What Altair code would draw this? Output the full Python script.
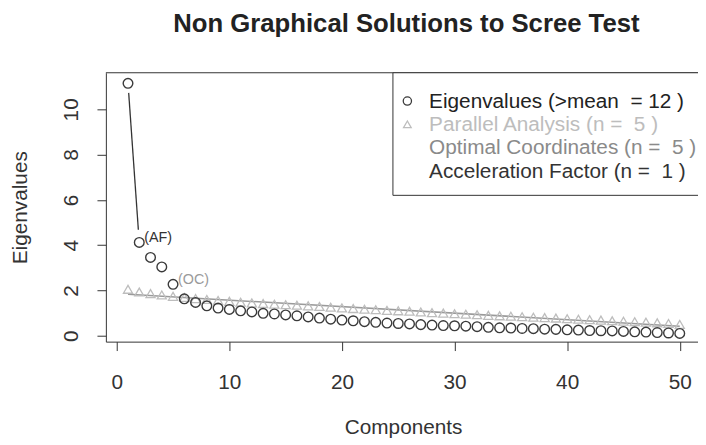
import altair as alt
import pandas as pd

# ---- data ----
components = list(range(1, 51))
eigenvalues = [11.15, 4.12, 3.46, 3.04, 2.27, 1.63, 1.47, 1.32, 1.22, 1.16,
               1.10, 1.05, 0.99, 0.96, 0.92, 0.88, 0.83, 0.78, 0.73, 0.69,
               0.66, 0.62, 0.59, 0.56, 0.54, 0.52, 0.49, 0.47, 0.45, 0.44,
               0.42, 0.40, 0.37, 0.35, 0.34, 0.32, 0.31, 0.29, 0.28, 0.26,
               0.25, 0.23, 0.22, 0.21, 0.19, 0.17, 0.16, 0.14, 0.12, 0.10]
parallel = [2.05, 1.93, 1.86, 1.80, 1.74, 1.69, 1.64, 1.60, 1.56, 1.52,
            1.48, 1.45, 1.42, 1.39, 1.37, 1.35, 1.32, 1.29, 1.26, 1.23,
            1.20, 1.17, 1.15, 1.12, 1.10, 1.08, 1.05, 1.02, 1.00, 0.97,
            0.95, 0.93, 0.90, 0.88, 0.86, 0.84, 0.82, 0.80, 0.78, 0.75,
            0.73, 0.71, 0.69, 0.66, 0.64, 0.62, 0.60, 0.57, 0.54, 0.50]
oc_x = [1, 50]
oc_y = [1.83, 0.42]
af_x = [1, 2]
af_y = [11.15, 4.12]
noc = 5
naf = 1
legend_labels = ["Eigenvalues (>mean\u00a0 = 12 )",
                 "Parallel Analysis (n =\u00a0 5 )",
                 "Optimal Coordinates (n =\u00a0 5 )",
                 "Acceleration Factor (n =\u00a0 1 )"]
title_text = "Non Graphical Solutions to Scree Test"

FONT = "Liberation Sans"
W, H = 599, 272
XDOM = [-0.966, 51.62]
YDOM = [-0.262, 11.616]

eig_df = pd.DataFrame({"k": components, "v": eigenvalues})
pa_df = pd.DataFrame({"k": components, "v": parallel})
oc_df = pd.DataFrame({"k": oc_x, "v": oc_y})
# AF segment drawn like R's type="b": small gaps at both ends
t0, t1 = 0.06, 0.92
af_df = pd.DataFrame({
    "k": [af_x[0] + t0 * (af_x[1] - af_x[0]), af_x[0] + t1 * (af_x[1] - af_x[0])],
    "v": [af_y[0] + t0 * (af_y[1] - af_y[0]), af_y[0] + t1 * (af_y[1] - af_y[0])],
})
oc_lab = pd.DataFrame({"k": [noc], "v": [eigenvalues[noc - 1]], "t": ["(OC)"]})
af_lab = pd.DataFrame({"k": [naf + 1], "v": [eigenvalues[naf]], "t": ["(AF)"]})

xscale = alt.Scale(domain=XDOM, nice=False, zero=False)
yscale = alt.Scale(domain=YDOM, nice=False, zero=False)

xaxis = alt.Axis(values=[0, 10, 20, 30, 40, 50], format="d", grid=False,
                 tickSize=9, tickColor="#333", domainColor="#333",
                 labelFontSize=21, labelFont=FONT, labelColor="#333",
                 labelPadding=21, labelFlush=False, labelOverlap=False,
                 title="Components", titleFontSize=21, titleFont=FONT,
                 titleFontWeight="normal", titleColor="#333",
                 titleX=300.7, titleY=93, titleAlign="center",
                 titleBaseline="alphabetic")
yaxis = alt.Axis(values=[0, 2, 4, 6, 8, 10], format="d", grid=False,
                 tickSize=9, tickColor="#333", domainColor="#333",
                 labelFontSize=21, labelFont=FONT, labelColor="#333",
                 labelAngle=270, labelAlign="center", labelBaseline="alphabetic",
                 labelPadding=20, labelFlush=False, labelOverlap=False,
                 title="Eigenvalues", titleFontSize=21, titleFont=FONT,
                 titleFontWeight="normal", titleColor="#333",
                 titleAngle=270, titleX=-80, titleY=136, titleAlign="center",
                 titleBaseline="alphabetic")

X = alt.X("k:Q", scale=xscale, axis=xaxis)
Y = alt.Y("v:Q", scale=yscale, axis=yaxis)
Xn = alt.X("k:Q", scale=xscale)
Yn = alt.Y("v:Q", scale=yscale)

eig_layer = alt.Chart(eig_df).mark_point(
    shape="circle", size=95, filled=False, stroke="#3a3a3a", strokeWidth=1.4,
    opacity=1).encode(x=X, y=Y)
pa_layer = alt.Chart(pa_df).mark_point(
    shape="triangle-up", size=85, filled=False, stroke="#bdbdbd",
    strokeWidth=1.3, opacity=1).encode(x=Xn, y=Yn)
oc_layer = alt.Chart(oc_df).mark_line(color="#9a9a9a", strokeWidth=1.6).encode(x=Xn, y=Yn)
af_layer = alt.Chart(af_df).mark_line(color="#333", strokeWidth=1.3).encode(x=Xn, y=Yn)
oc_text = alt.Chart(oc_lab).mark_text(
    align="left", baseline="alphabetic", dx=5, fontSize=14.5, font=FONT,
    color="#9a9a9a").encode(x=Xn, y=Yn, text="t:N")
af_text = alt.Chart(af_lab).mark_text(
    align="left", baseline="alphabetic", dx=5, fontSize=14.5, font=FONT,
    color="#333").encode(x=Xn, y=Yn, text="t:N")

one = pd.DataFrame({"a": [0]})
top_rule = alt.Chart(one).mark_rule(color="#333", strokeWidth=1).encode(
    x=alt.value(0), x2=alt.value(W), y=alt.value(0))

# main title as a text mark above the plot frame
title_layer = alt.Chart(pd.DataFrame({"t": [title_text]})).mark_text(
    align="center", baseline="alphabetic", fontSize=26, fontWeight="bold",
    font=FONT, color="#222").encode(x=alt.value(304), y=alt.value(-41), text="t:N")

# legend box (top-right, drawn as marks)
leg_box = alt.Chart(one).mark_rect(fill="white", stroke="#333", strokeWidth=1).encode(
    x=alt.value(290.4), x2=alt.value(720), y=alt.value(0), y2=alt.value(124))
leg_colors = ["#222", "#bdbdbd", "#8a8a8a", "#333"]
leg_rows = [35.6, 59.1, 82.6, 106.1]
leg_layers = [leg_box]
leg_layers.append(alt.Chart(one).mark_point(
    shape="circle", size=70, filled=False, stroke="#3a3a3a", strokeWidth=1.3,
    opacity=1).encode(x=alt.value(305), y=alt.value(leg_rows[0] - 7)))
leg_layers.append(alt.Chart(one).mark_point(
    shape="triangle-up", size=60, filled=False, stroke="#bdbdbd", strokeWidth=1.3,
    opacity=1).encode(x=alt.value(305), y=alt.value(leg_rows[1] - 7)))
for lab, col, yy in zip(legend_labels, leg_colors, leg_rows):
    leg_layers.append(alt.Chart(pd.DataFrame({"t": [lab]})).mark_text(
        align="left", baseline="alphabetic", fontSize=21, font=FONT,
        color=col).encode(x=alt.value(327), y=alt.value(yy), text="t:N"))

chart = alt.layer(
    oc_layer, pa_layer, af_layer, eig_layer, oc_text, af_text, top_rule,
    title_layer, *leg_layers
).properties(
    width=W, height=H,
    autosize=alt.AutoSizeParams(type="none"),
    padding={"left": 99, "top": 63, "right": 0, "bottom": 98},
    background="white",
).configure_view(stroke=None)

chart.save("out.html", embed_options={"renderer": "svg", "actions": False})
